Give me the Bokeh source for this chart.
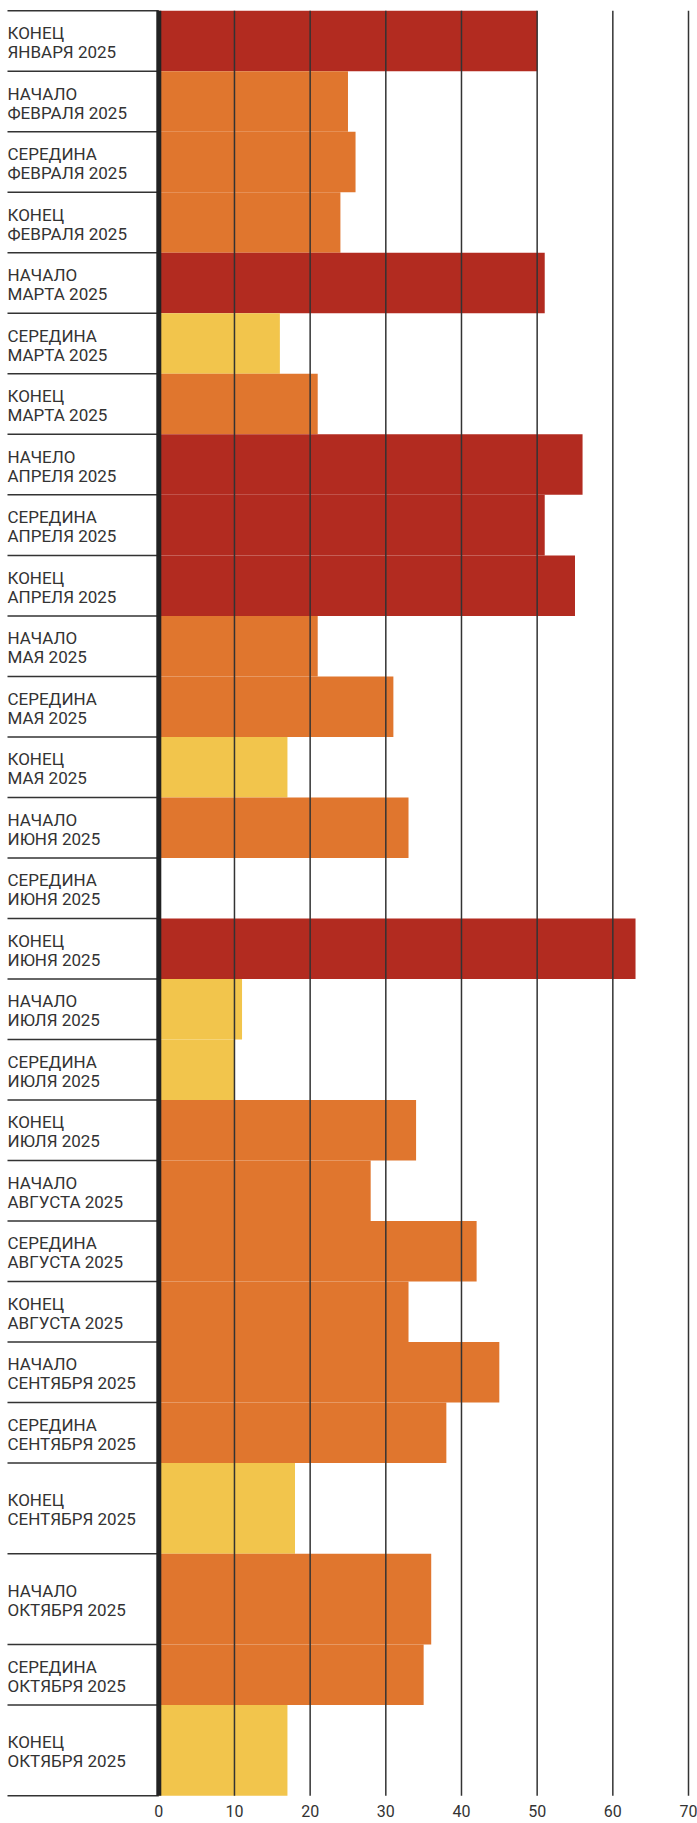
from bokeh.plotting import figure
from bokeh.models import Range1d, FixedTicker, ColumnDataSource
from bokeh.core.properties import value
from bokeh.embed import file_html
from bokeh.resources import INLINE
import numpy as np

# ---------------- data ----------------
periods = ["КОНЕЦ", "НАЧАЛО", "СЕРЕДИНА", "КОНЕЦ",
           "НАЧАЛО", "СЕРЕДИНА", "КОНЕЦ",
           "НАЧЕЛО", "СЕРЕДИНА", "КОНЕЦ",
           "НАЧАЛО", "СЕРЕДИНА", "КОНЕЦ",
           "НАЧАЛО", "СЕРЕДИНА", "КОНЕЦ",
           "НАЧАЛО", "СЕРЕДИНА", "КОНЕЦ",
           "НАЧАЛО", "СЕРЕДИНА", "КОНЕЦ",
           "НАЧАЛО", "СЕРЕДИНА", "КОНЕЦ",
           "НАЧАЛО", "СЕРЕДИНА", "КОНЕЦ"]
months = ["ЯНВАРЯ 2025", "ФЕВРАЛЯ 2025", "ФЕВРАЛЯ 2025", "ФЕВРАЛЯ 2025",
          "МАРТА 2025", "МАРТА 2025", "МАРТА 2025",
          "АПРЕЛЯ 2025", "АПРЕЛЯ 2025", "АПРЕЛЯ 2025",
          "МАЯ 2025", "МАЯ 2025", "МАЯ 2025",
          "ИЮНЯ 2025", "ИЮНЯ 2025", "ИЮНЯ 2025",
          "ИЮЛЯ 2025", "ИЮЛЯ 2025", "ИЮЛЯ 2025",
          "АВГУСТА 2025", "АВГУСТА 2025", "АВГУСТА 2025",
          "СЕНТЯБРЯ 2025", "СЕНТЯБРЯ 2025", "СЕНТЯБРЯ 2025",
          "ОКТЯБРЯ 2025", "ОКТЯБРЯ 2025", "ОКТЯБРЯ 2025"]
values = [50, 25, 26, 24,
          51, 16, 21,
          56, 51, 55,
          21, 31, 17,
          33, 0, 63,
          11, 10, 34,
          28, 42, 33,
          45, 38, 18,
          36, 35, 17]
levels = ["high", "mid", "mid", "mid",
          "high", "low", "mid",
          "high", "high", "high",
          "mid", "mid", "low",
          "mid", "low", "high",
          "low", "low", "mid",
          "mid", "mid", "mid",
          "mid", "mid", "low",
          "mid", "mid", "low"]
ticks = [0, 10, 20, 30, 40, 50, 60, 70]

# ---------------- layout / style ----------------
row_span = [1] * 24 + [1.5, 1.5, 1, 1.5]
level_colors = {"high": "#B22B20", "mid": "#E0762E", "low": "#F2C54C"}
FONT = "Roboto"
INK = "#333333"

W, H = 697, 1823
BORDER_B = 26
frame_h = H - BORDER_B
rows_top_px, rows_bottom_px = 10.3, 1795.3
total = float(sum(row_span))
upx = (rows_bottom_px - rows_top_px) / total

zero_px, x70_px = 158.3, 688.0
scale = (x70_px - zero_px) / 70.0
x_start = -zero_px / scale
x_end = 70 + (W - x70_px) / scale
label_x = x_start + 7.0 / scale

bottoms = np.cumsum(row_span)
tops = bottoms - np.array(row_span)
centers = (tops + bottoms) / 2.0

src = ColumnDataSource(dict(
    value=values,
    top=list(tops),
    bottom=list(bottoms),
    center=list(centers),
    color=[level_colors[l] for l in levels],
    period=periods,
    month=months,
))

p = figure(width=W, height=H,
           x_range=Range1d(x_start, x_end),
           y_range=Range1d(start=total + (frame_h - rows_bottom_px) / upx,
                           end=-rows_top_px / upx),
           output_backend="svg", toolbar_location=None, y_axis_location=None,
           min_border_left=0, min_border_right=0, min_border_top=0,
           min_border_bottom=BORDER_B)
p.outline_line_color = None
p.grid.visible = False
p.background_fill_color = "white"
p.border_fill_color = "white"

# bars
p.quad(left=0, right="value", top="top", bottom="bottom",
       fill_color="color", line_color=None, source=src)

# vertical grid lines (above bars)
p.segment(x0=ticks[1:], x1=ticks[1:], y0=0, y1=total,
          line_color=INK, line_width=1.5)

# row separators in the label column
bounds = [0.0] + list(bottoms)
p.segment(x0=label_x, x1=0, y0=bounds, y1=bounds,
          line_color=INK, line_width=1.5)

# thick zero axis line
p.segment(x0=[0], x1=[0], y0=[0], y1=[total], line_color="#222222", line_width=5)

# row labels
p.text(x=label_x, y="center", text="period", source=src,
       text_font=value(FONT), text_font_size="17px", text_color=INK,
       text_align="left", text_baseline="alphabetic", y_offset=-8)
p.text(x=label_x, y="center", text="month", source=src,
       text_font=value(FONT), text_font_size="17px", text_color=INK,
       text_align="left", text_baseline="alphabetic", y_offset=11)

# x axis
ax = p.xaxis[0]
ax.ticker = FixedTicker(ticks=ticks)
ax.axis_line_color = None
ax.major_tick_line_color = None
ax.minor_tick_line_color = None
ax.major_tick_out = 0
ax.major_tick_in = 0
ax.major_label_standoff = 7
ax.major_label_text_font = FONT
ax.major_label_text_font_size = "16px"
ax.major_label_text_color = INK

open("out.html", "w").write(file_html(p, INLINE))
